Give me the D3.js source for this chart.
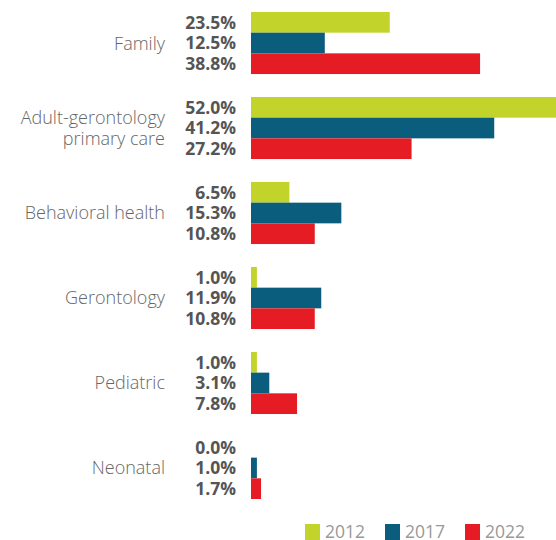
<!DOCTYPE html>
<meta charset="utf-8">
<script src="https://d3js.org/d3.v7.min.js"></script>
<style>
  body { margin: 0; background: #fff; }
  svg { display: block; font-family: "Open Sans", Lato, sans-serif; }
  .cat { fill: #666; font-weight: 300; font-size: 18px; }
  .val { fill: #555; font-weight: 700; font-size: 17.5px; }
  .leg { fill: #999; font-size: 17.5px; }
</style>
<body></body>
<script>
  // data
  var categories = ["Family", "Adult-gerontology|primary care", "Behavioral health", "Gerontology", "Pediatric", "Neonatal"];
  var years = ["2012", "2017", "2022"];
  var v2012 = [23.5, 52.0, 6.5, 1.0, 1.0, 0.0];
  var v2017 = [12.5, 41.2, 15.3, 11.9, 3.1, 1.0];
  var v2022 = [38.8, 27.2, 10.8, 10.8, 7.8, 1.7];
  var colors = ["#c2d32b", "#0b5d7d", "#e61c24"];

  var width = 556, height = 540;
  var svg = d3.select('body').append('svg')
    .attr('width', width).attr('height', height);

  var series = [v2012, v2017, v2022];
  var rows = [];
  categories.forEach(function(c, i) {
    years.forEach(function(y, j) {
      rows.push({cat: c, year: y, value: series[j][i], j: j});
    });
  });

  // scales
  var x = d3.scaleLinear().domain([0, 52]).range([251, 558]);
  var y0 = d3.scaleBand().domain(categories).range([12, 499]).paddingInner(0.27).paddingOuter(0);
  var y1 = d3.scaleBand().domain(years).range([0, y0.bandwidth()]);

  var g = svg.selectAll('g.grp')
    .data(categories)
    .enter().append('g')
    .attr('class', 'grp')
    .attr('transform', d => 'translate(0,' + y0(d) + ')');

  g.selectAll('rect')
    .data(c => rows.filter(r => r.cat == c))
    .enter().append('rect')
    .attr('x', x(0))
    .attr('y', d => y1(d.year))
    .attr('width', d => x(d.value) - x(0))
    .attr('height', y1.bandwidth())
    .attr('fill', d => colors[d.j]);

  g.selectAll('text.val')
    .data(c => rows.filter(r => r.cat == c))
    .enter().append('text')
    .attr('class', 'val')
    .attr('x', 236)
    .attr('y', d => y1(d.year) + y1.bandwidth() / 2)
    .attr('dy', '0.36em')
    .attr('text-anchor', 'end')
    .text(d => d.value.toFixed(1) + '%');

  // category labels
  g.each(function(c) {
    var lines = c.split('|');
    var t = d3.select(this).append('text')
      .attr('class', 'cat')
      .attr('text-anchor', 'end')
      .attr('x', 165)
      .attr('y', y0.bandwidth() / 2 - (lines.length - 1) * 10.5);
    lines.forEach(function(l, k) {
      t.append('tspan').attr('x', 165).attr('dy', k == 0 ? '0.36em' : 21).text(l);
    });
  });

  // legend
  var legX = d3.scalePoint().domain(years).range([305, 465]);
  var leg = svg.selectAll('g.leg')
    .data(years)
    .enter().append('g')
    .attr('transform', d => 'translate(' + legX(d) + ',524)');
  leg.append('rect')
    .attr('width', 15).attr('height', 16)
    .attr('fill', (d, i) => colors[i]);
  leg.append('text')
    .attr('class', 'leg')
    .attr('x', 20).attr('y', 14)
    .text(d => d);
</script>
